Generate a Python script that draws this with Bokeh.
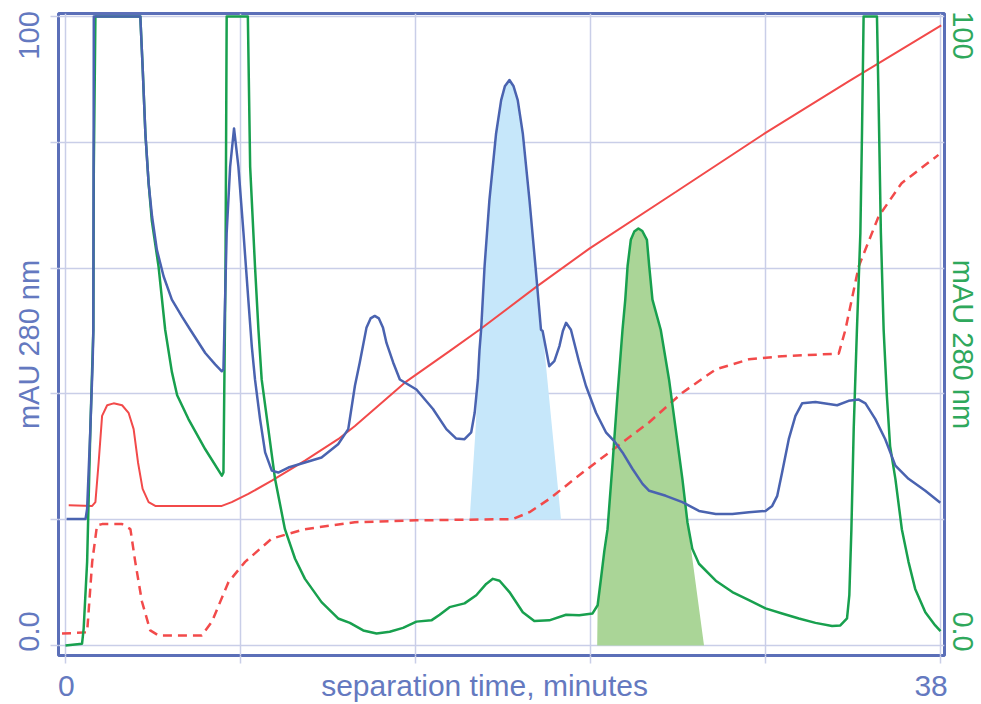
from bokeh.plotting import figure
from bokeh.models import Range1d, FixedTicker, LinearAxis
from bokeh.embed import file_html
from bokeh.resources import INLINE

# ---------------- data ----------------
# Blue trace (left axis, mAU 280 nm)
blue_x = [0.05, 0.87, 0.94, 1.08, 1.18, 1.21, 1.23, 3.25, 3.35, 3.47, 3.61, 3.76, 3.97, 4.26, 4.62,
          5.06, 5.42, 6.07, 6.50, 6.79, 6.86, 7.00, 7.15, 7.32, 7.51, 7.73, 7.94, 8.09, 8.23, 8.45,
          8.67, 8.96, 9.24, 9.68, 10.40, 11.12, 11.84, 12.28, 12.57, 12.78, 13.07, 13.25, 13.43, 13.61,
          13.79, 13.94, 14.23, 14.52, 14.88, 15.24, 15.96, 16.54, 16.97, 17.33, 17.62, 17.77, 17.91,
          17.98, 18.05, 18.20, 18.41, 18.70, 18.92, 19.08, 19.28, 19.46, 19.64, 19.86, 20.15, 20.41,
          20.65, 20.72, 20.87, 21.01, 21.23, 21.45, 21.60, 21.74, 21.95, 22.31, 22.60, 23.04, 23.47,
          23.83, 24.19, 24.62, 25.06, 25.35, 26.07, 26.79, 27.51, 28.24, 28.96, 29.68, 30.40, 30.69,
          30.91, 31.12, 31.41, 31.70, 31.99, 32.57, 33.15, 33.51, 34.01, 34.45, 34.74, 35.17, 35.60,
          36.04, 36.61, 37.34, 37.99]
blue_y = [20.1, 20.1, 21.7, 34.4, 45.0, 50.0, 100.0, 100.0, 92.0, 81.4, 73.5, 68.2, 62.9, 58.7, 55.0,
          52.3, 50.2, 46.5, 44.7, 43.6, 43.9, 65.6, 76.1, 82.2, 76.1, 65.6, 55.0, 47.6, 42.3, 36.0,
          30.7, 27.8, 27.5, 28.3, 29.1, 29.9, 32.0, 34.4, 41.3, 45.0, 50.5, 52.0, 52.4, 52.0,
          50.5, 48.1, 45.0, 42.3, 41.5, 40.7, 37.6, 34.4, 32.9, 32.8, 33.9, 37.0, 42.3,
          47.0, 50.2, 60.3, 70.8, 81.4, 86.7, 88.9, 89.9, 88.9, 86.7, 81.4, 70.8, 60.3,
          50.2, 50.0, 47.1, 44.4, 45.2, 47.6, 50.0, 51.3, 50.2, 45.0, 41.3, 37.0, 33.9,
          32.5, 30.7, 28.1, 25.7, 24.6, 23.8, 22.8, 21.4, 20.9, 20.9, 21.2, 21.4, 22.2,
          23.8, 27.5, 32.8, 36.5, 38.5, 38.7, 38.4, 38.2, 38.9, 39.1, 38.5, 36.0, 32.8,
          28.6, 26.5, 24.6, 22.7]

# Green trace (right axis, mAU 280 nm)
green_x = [0.0, 0.72, 0.79, 0.94, 1.08, 1.21, 1.23, 1.30, 3.25, 3.35, 3.47, 3.61, 3.75, 4.04, 4.33,
           4.62, 4.85, 5.34, 6.07, 6.79, 6.86, 6.95, 7.00, 7.92, 8.02, 8.23, 8.38, 8.52, 8.81, 9.10,
           9.53, 9.97, 10.40, 11.12, 11.84, 12.35, 12.93, 13.51, 14.08, 14.66, 15.24, 15.89, 16.25,
           16.68, 17.33, 17.84, 18.27, 18.56, 18.85, 19.28, 19.86, 20.36, 21.01, 21.74, 22.31, 22.89,
           23.11, 23.25, 23.40, 23.54, 23.76, 23.97, 24.19, 24.31, 24.41, 24.55, 24.70, 24.88, 25.05,
           25.25, 25.35, 25.49, 25.85, 26.21, 26.50, 26.79, 27.01, 27.22, 27.51, 28.24, 28.96, 29.68,
           30.40, 31.12, 31.85, 32.57, 33.29, 33.65, 33.94, 34.04, 34.13, 34.23, 34.37, 34.52, 34.59,
           34.66, 35.24, 35.31, 35.41, 35.53, 35.67, 35.81, 36.04, 36.32, 36.61, 36.90, 37.34, 37.77,
           38.0]
green_y = [0.0, 0.3, 2.7, 13.3, 34.4, 50.2, 76.0, 100.0, 100.0, 92.0, 81.4, 73.5, 67.5, 60.3, 50.2,
           43.5, 39.8, 36.0, 31.2, 27.0, 27.5, 60.0, 100.0, 100.0, 76.1, 60.3, 50.2, 42.3, 34.4, 26.5,
           18.5, 13.8, 10.6, 6.9, 4.3, 3.6, 2.4, 1.9, 2.2, 2.8, 3.8, 4.0, 4.9,
           6.1, 6.7, 8.0, 9.8, 10.6, 10.3, 8.5, 5.3, 3.9, 4.0, 4.9, 4.8, 5.1,
           6.4, 10.5, 15.0, 18.5, 29.1, 39.7, 50.2, 55.0, 60.3, 64.5, 65.8, 66.3, 65.9,
           64.5, 60.3, 55.0, 50.2, 42.3, 34.4, 26.5, 19.6, 15.4, 13.0, 10.3, 8.5, 7.2,
           5.9, 5.1, 4.3, 3.6, 3.1, 3.2, 4.3, 8.0, 18.5, 34.4, 50.2, 65.6, 81.4,
           100.0, 100.0, 86.7, 65.6, 50.2, 39.7, 31.7, 26.5, 18.5, 13.3, 9.0, 5.3, 3.2,
           2.3]

# Red solid trace
red_x = [0.14, 1.16, 1.30, 1.44, 1.59, 1.81, 2.09, 2.46, 2.74, 2.96, 3.15, 3.35, 3.61, 3.90, 6.79,
         7.22, 7.94, 8.96, 10.40, 11.84, 12.57, 14.81, 16.68, 17.98, 20.40, 22.75, 26.50, 30.40,
         34.01, 38.03]
red_y = [22.3, 22.2, 22.8, 29.1, 36.5, 38.2, 38.5, 38.2, 37.0, 34.4, 29.1, 24.9, 22.8, 22.2, 22.2,
         22.8, 24.1, 26.2, 29.4, 32.8, 34.9, 42.0, 46.8, 50.2, 56.9, 63.1, 72.1, 81.5,
         89.7, 98.6]

# Red dashed trace
dash_x = [-0.15, 0.94, 1.16, 1.37, 1.59, 2.46, 2.82, 3.03, 3.32, 3.68, 4.04, 5.92, 6.36, 7.08, 7.80,
          8.96, 10.40, 12.56, 15.24, 19.42, 20.15, 21.01, 22.46, 23.90, 25.35, 26.79, 28.24, 29.68,
          31.12, 33.58, 33.87, 34.45, 35.31, 36.31, 37.91]
dash_y = [1.9, 2.1, 13.3, 19.1, 19.3, 19.3, 18.5, 13.3, 7.0, 2.4, 1.6, 1.6, 3.8, 10.1, 13.3,
          17.0, 18.5, 19.6, 19.9, 20.1, 21.2, 23.3, 27.5, 31.5, 35.5, 40.2, 43.9, 45.5,
          46.0, 46.4, 50.2, 60.3, 68.2, 73.5, 78.0]

# Shaded peak areas
bfill_x = [17.55, 17.81, 17.91, 17.98, 18.05, 18.20, 18.41, 18.70, 18.92, 19.08, 19.28, 19.46,
           19.64, 19.86, 20.15, 20.41, 20.65, 20.72, 21.52]
bfill_y = [20.0, 34.4, 42.3, 47.0, 50.2, 60.3, 70.8, 81.4, 86.7, 88.9, 89.9, 88.9,
           86.7, 81.4, 70.8, 60.3, 50.2, 50.0, 20.0]
gfill_x = [23.09, 23.11, 23.25, 23.40, 23.54, 23.76, 23.97, 24.19, 24.31, 24.41, 24.55, 24.70,
           24.88, 25.05, 25.25, 25.35, 25.49, 25.85, 26.21, 26.50, 26.79, 27.01, 27.73]
gfill_y = [0.0, 6.4, 10.5, 15.0, 18.5, 29.1, 39.7, 50.2, 55.0, 60.3, 64.5, 65.8,
           66.3, 65.9, 64.5, 60.3, 55.0, 50.2, 42.3, 34.4, 26.5, 19.6, 0.0]

# grid / tick positions
x_ticks = [0, 7.6, 15.2, 22.8, 30.4, 38]
y_ticks = [0, 20, 40, 60, 80, 100]

# label texts and where they sit along each axis
x_label_pos = [0.04, 18.2, 37.59]
x_label_txt = ["0", "separation time, minutes", "38"]
y_label_pos = [2.22, 47.86, 96.99]
y_label_txt = ["0.0", "mAU 280 nm", "100"]

# ---------------- styling ----------------
AXIS_BLUE = "#5b6fb8"
TEXT_BLUE = "#6479c0"
TEXT_GREEN = "#2fa85c"
GRID = "#c9cee8"
BLUE = "#4a63b0"
GREEN = "#18a04e"
RED = "#f24a4a"
FONT = "Liberation Sans"

p = figure(width=981, height=704, output_backend="svg", toolbar_location=None,
           x_range=Range1d(-0.303, 38.173), y_range=Range1d(-1.585, 100.475),
           min_border_left=58, min_border_right=35, min_border_top=13, min_border_bottom=47)
p.title = None
p.background_fill_color = "white"
p.border_fill_color = "white"
p.outline_line_color = AXIS_BLUE
p.outline_line_width = 3

# tick-mark axes (no visible labels)
p.xaxis.ticker = FixedTicker(ticks=x_ticks)
p.yaxis.ticker = FixedTicker(ticks=y_ticks)
p.xaxis.major_label_overrides = {t: "" for t in x_ticks}
p.yaxis.major_label_overrides = {t: "" for t in y_ticks}
for ax in (p.xaxis, p.yaxis):
    ax.axis_line_color = None
    ax.major_tick_line_color = GRID
    ax.major_tick_line_width = 1.5
    ax.major_tick_out = 8
    ax.major_tick_in = 0
    ax.minor_tick_line_color = None
    ax.major_label_text_font_size = "1px"
    ax.major_label_standoff = 0
p.xgrid.ticker = FixedTicker(ticks=x_ticks)
p.ygrid.ticker = FixedTicker(ticks=y_ticks)
p.grid.grid_line_color = GRID
p.grid.grid_line_width = 1.5


def text_axis(ticks, texts, color, size, standoff, vertical):
    ax = LinearAxis(ticker=FixedTicker(ticks=ticks),
                    major_label_overrides=dict(zip(ticks, texts)))
    ax.axis_line_color = None
    ax.major_tick_line_color = None
    ax.minor_tick_line_color = None
    ax.major_tick_out = 0
    ax.major_tick_in = 0
    ax.major_label_standoff = standoff
    ax.major_label_text_color = color
    ax.major_label_text_font = FONT
    ax.major_label_text_font_size = size
    if vertical:
        ax.major_label_orientation = "vertical"
    return ax


p.add_layout(text_axis(x_label_pos, x_label_txt, TEXT_BLUE, "30px", 5, False), "below")
p.add_layout(text_axis(y_label_pos, y_label_txt, TEXT_BLUE, "29px", 5, True), "left")
p.add_layout(text_axis(y_label_pos, y_label_txt, TEXT_GREEN, "29px", 2, True), "right")

# fills
p.patch(bfill_x, bfill_y, fill_color="#c6e7fa", line_color=None)
p.patch(gfill_x, gfill_y, fill_color="#aad597", line_color=None)

# traces
p.line(dash_x, dash_y, line_color=RED, line_width=2.5, line_dash="9 6")
p.line(red_x, red_y, line_color=RED, line_width=2)
p.line(green_x, green_y, line_color=GREEN, line_width=2.5, line_join="round")
p.line(blue_x, blue_y, line_color=BLUE, line_width=2.5, line_join="round")

open("out.html", "w").write(file_html(p, INLINE))
